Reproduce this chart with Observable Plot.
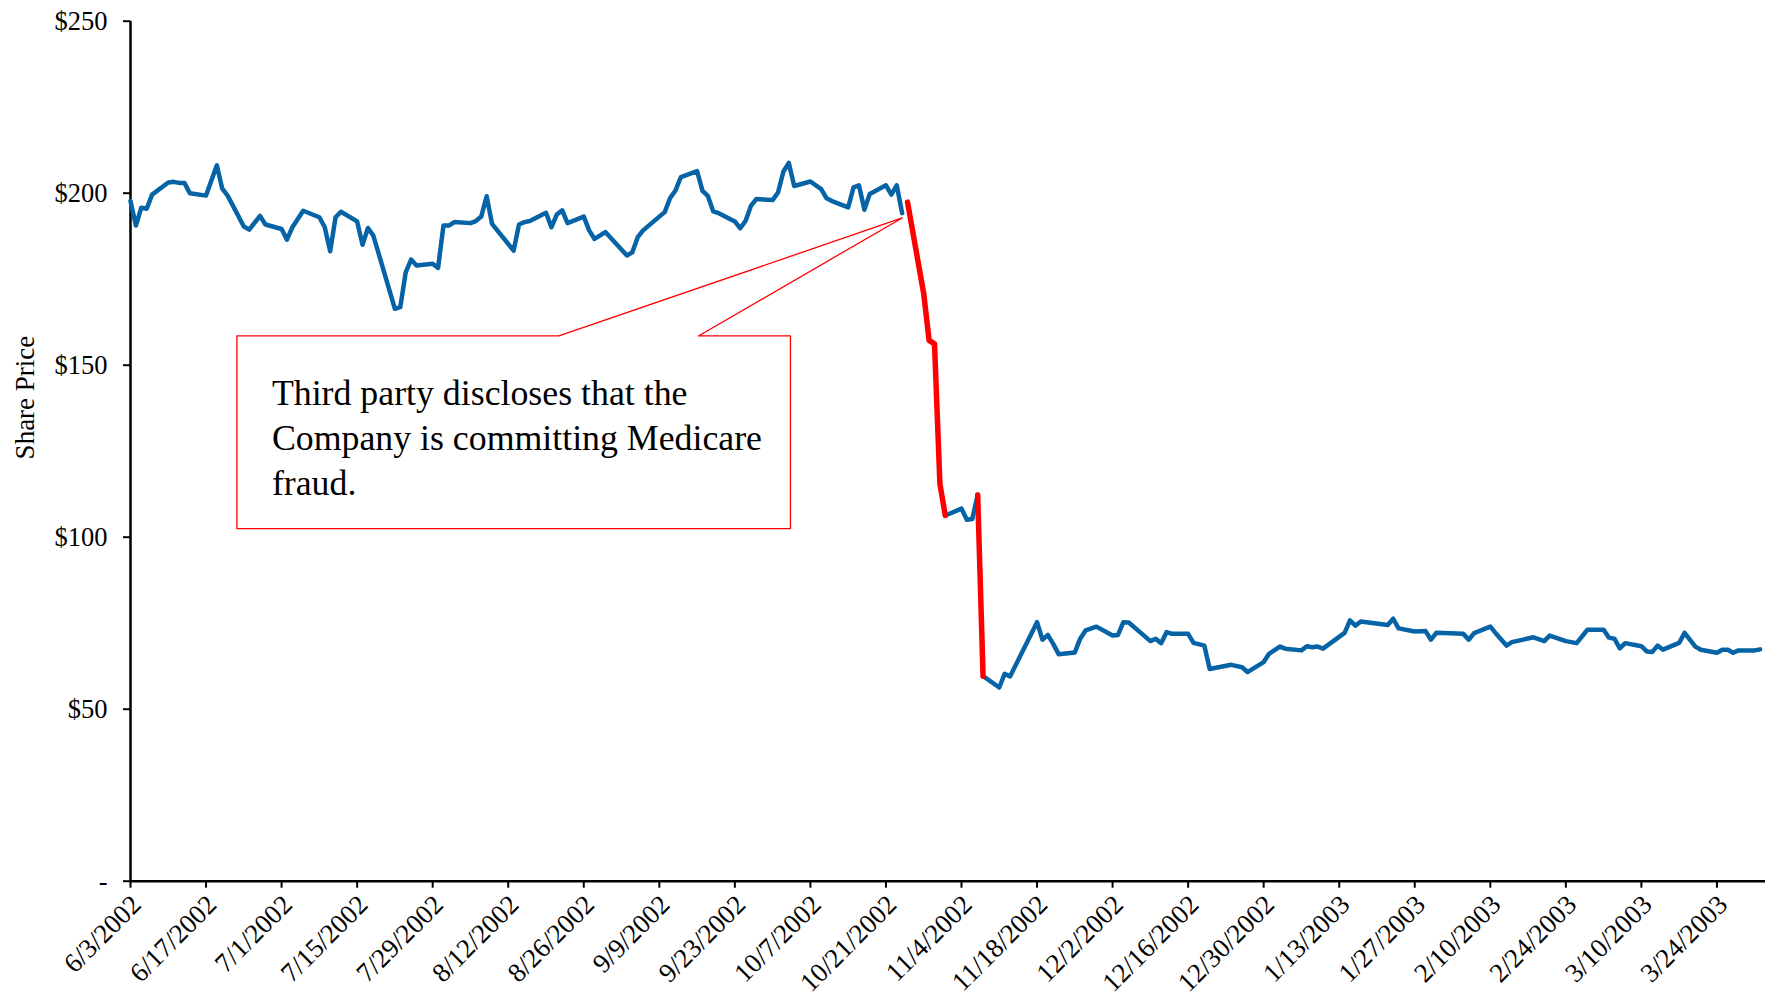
<!DOCTYPE html>
<html>
<head>
<meta charset="utf-8">
<script src="https://cdn.jsdelivr.net/npm/d3@7"></script>
<script src="https://cdn.jsdelivr.net/npm/@observablehq/plot@0.6"></script>
<style>
  html, body { margin: 0; padding: 0; background: #fff; }
  svg { display: block; }
</style>
</head>
<body>
<div id="chart"></div>
<script>
// ---- Data ----
const dates = [
  "2002-06-03","2002-06-04","2002-06-05","2002-06-06","2002-06-07",
  "2002-06-10","2002-06-11","2002-06-12","2002-06-13","2002-06-14",
  "2002-06-17","2002-06-19","2002-06-20","2002-06-21",
  "2002-06-24","2002-06-25","2002-06-27","2002-06-28",
  "2002-07-01","2002-07-02","2002-07-03","2002-07-05",
  "2002-07-08","2002-07-09","2002-07-10","2002-07-11","2002-07-12",
  "2002-07-15","2002-07-16","2002-07-17","2002-07-18",
  "2002-07-22","2002-07-23","2002-07-24","2002-07-25","2002-07-26",
  "2002-07-29","2002-07-30","2002-07-31","2002-08-01","2002-08-02",
  "2002-08-05","2002-08-06","2002-08-07","2002-08-08","2002-08-09",
  "2002-08-13","2002-08-14","2002-08-15","2002-08-16",
  "2002-08-19","2002-08-20","2002-08-21","2002-08-22","2002-08-23",
  "2002-08-26","2002-08-27","2002-08-28","2002-08-30",
  "2002-09-03","2002-09-04","2002-09-05","2002-09-06",
  "2002-09-09","2002-09-10","2002-09-11","2002-09-12","2002-09-13",
  "2002-09-16","2002-09-17","2002-09-18","2002-09-19","2002-09-20",
  "2002-09-23","2002-09-24","2002-09-25","2002-09-26","2002-09-27",
  "2002-09-30","2002-10-01","2002-10-02","2002-10-03","2002-10-04",
  "2002-10-07","2002-10-09","2002-10-10","2002-10-11",
  "2002-10-14","2002-10-15","2002-10-16","2002-10-17","2002-10-18",
  "2002-10-21","2002-10-22","2002-10-23","2002-10-24","2002-10-25",
  "2002-10-28","2002-10-29","2002-10-30","2002-10-31","2002-11-01",
  "2002-11-04","2002-11-05","2002-11-06","2002-11-07","2002-11-08",
  "2002-11-11","2002-11-12","2002-11-13",
  "2002-11-18","2002-11-19","2002-11-20","2002-11-21","2002-11-22",
  "2002-11-25","2002-11-26","2002-11-27","2002-11-29",
  "2002-12-02","2002-12-03","2002-12-04","2002-12-05",
  "2002-12-09","2002-12-10","2002-12-11","2002-12-12","2002-12-13",
  "2002-12-16","2002-12-17","2002-12-19","2002-12-20",
  "2002-12-24","2002-12-26","2002-12-27",
  "2002-12-30","2002-12-31","2003-01-02","2003-01-03",
  "2003-01-06","2003-01-07","2003-01-08","2003-01-09","2003-01-10",
  "2003-01-14","2003-01-15","2003-01-16","2003-01-17",
  "2003-01-22","2003-01-23","2003-01-24",
  "2003-01-27","2003-01-29","2003-01-30","2003-01-31",
  "2003-02-05","2003-02-06","2003-02-07",
  "2003-02-10","2003-02-11","2003-02-13","2003-02-14",
  "2003-02-18","2003-02-20","2003-02-21",
  "2003-02-24","2003-02-26","2003-02-28",
  "2003-03-03","2003-03-04","2003-03-05","2003-03-06","2003-03-07",
  "2003-03-10","2003-03-11","2003-03-12","2003-03-13","2003-03-14",
  "2003-03-17","2003-03-18","2003-03-20","2003-03-21",
  "2003-03-24","2003-03-25","2003-03-26","2003-03-27","2003-03-28",
  "2003-03-31","2003-04-01"
];
const prices = [
  197.7,190.6,195.8,195.5,199.6,
  203.1,203.3,203.0,203.0,200.0,
  199.3,208.1,201.3,199.3,
  190.3,189.4,193.4,190.9,
  189.6,186.5,190.1,194.9,
  193.0,190.1,183.1,193.0,194.6,
  191.8,185.0,189.9,187.7,
  166.4,166.9,177.0,180.7,179.0,
  179.5,178.3,190.6,190.6,191.6,
  191.3,191.9,193.2,199.1,191.1,
  183.3,190.9,191.6,191.9,
  194.3,190.1,193.8,195.0,191.3,
  193.2,189.2,186.7,188.7,
  181.9,182.8,187.2,189.2,
  193.2,194.5,198.6,200.8,204.7,
  206.4,200.7,199.2,194.7,194.2,
  191.8,189.8,192.0,196.4,198.3,
  198.0,200.2,206.3,208.8,202.1,
  203.4,201.2,198.5,197.7,
  195.9,201.7,202.3,195.2,199.8,
  202.3,199.6,202.3,194.2,197.4,
  170.8,157.2,156.2,115.5,106.3,
  108.3,105.1,105.3,112.3,59.6,
  56.3,60.3,59.5,
  75.3,70.2,71.6,69.0,66.0,
  66.5,70.5,72.9,74.0,
  71.4,71.6,75.3,75.2,
  69.8,70.5,69.2,72.4,71.9,
  71.9,69.3,68.5,61.7,
  62.9,62.2,60.8,
  63.7,66.1,68.2,67.6,
  67.1,68.3,68.0,68.2,67.6,
  72.2,75.8,74.3,75.5,
  74.5,76.3,73.5,
  72.6,72.7,70.2,72.2,
  71.9,70.2,72.1,
  74.0,72.1,68.5,69.5,
  70.9,69.8,71.4,
  69.8,69.2,73.1,
  73.1,70.8,70.5,67.7,69.2,
  68.3,66.8,66.6,68.5,67.3,
  69.3,72.2,68.2,67.3,
  66.4,67.3,67.3,66.4,67.1,
  67.1,67.4
];
// Date ranges drawn in each colour
const blueRanges = [["2002-06-03","2002-10-24"],["2002-11-01","2002-11-07"],["2002-11-08","2003-04-01"]];
const redRanges  = [["2002-10-25","2002-11-01"],["2002-11-07","2002-11-08"]];

// Axis ticks
const xTicks = [
  "2002-06-03","2002-06-17","2002-07-01","2002-07-15","2002-07-29","2002-08-12",
  "2002-08-26","2002-09-09","2002-09-23","2002-10-07","2002-10-21","2002-11-04",
  "2002-11-18","2002-12-02","2002-12-16","2002-12-30","2003-01-13","2003-01-27",
  "2003-02-10","2003-02-24","2003-03-10","2003-03-24"
];
const yTicks = [0, 50, 100, 150, 200, 250];
const xDomain = ["2002-06-03", "2003-04-02"];

// Annotation (callout) in data space: day offsets from 6/3/2002 and prices
const calloutText = "Third party discloses that the\nCompany is committing Medicare\nfraud.";
const calloutDays   = [19.72, 79.39, 143.0, 105.26, 122.3, 122.3, 19.72, 19.72];
const calloutPrices = [158.5, 158.5, 192.8, 158.5, 158.5, 102.5, 102.5, 158.5];
const calloutTextPos = {day: 26.2, price: 147.7};
const yLabelPos = {price: 140.6};

// ---- Build ----
const parse = s => new Date(s + "T00:00:00Z");
const rows = dates.map((d, i) => ({date: parse(d), price: prices[i]}));
const seg = ranges => ranges.flatMap(([a, b], k) =>
  rows.filter(r => r.date >= parse(a) && r.date <= parse(b)).map(r => ({...r, k})));
const blueRows = seg(blueRanges);
const redRows = seg(redRanges);
const t0 = parse(dates[0]);
const dayToDate = d => new Date(t0.getTime() + d * 864e5);
const callout = calloutDays.map((d, i) => ({date: dayToDate(d), price: calloutPrices[i]}));
const fmtDate = d => `${d.getUTCMonth() + 1}/${d.getUTCDate()}/${d.getUTCFullYear()}`;
const font = "'Liberation Serif', 'Times New Roman', serif";
const xTickDates = xTicks.map(parse);

const chart = Plot.plot({
  width: 1765,
  height: 998,
  marginLeft: 130,
  marginRight: 0,
  marginTop: 20.7,
  marginBottom: 117.3,
  style: {fontFamily: font, fontSize: "26px", color: "#000", background: "#fff", overflow: "visible"},
  x: {type: "utc", domain: xDomain.map(parse)},
  y: {domain: [0, 250]},
  marks: [
    Plot.axisY({ticks: yTicks, tickFormat: v => v === 0 ? "-" : `$${v}`, tickSize: 7, tickPadding: 16,
      fontSize: 26.5, strokeWidth: 2, label: null}),
    // tick marks only
    Plot.axisX({ticks: xTickDates, tickFormat: () => "", tickSize: 7, strokeWidth: 2, label: null}),
    // rotated tick labels only
    Plot.axisX({ticks: xTickDates, tickFormat: fmtDate, tickSize: 0, tickPadding: 19, dx: 6,
      tickRotate: -45, fontSize: 27, label: null}),
    Plot.ruleY([0], {stroke: "#000", strokeWidth: 2.5}),
    Plot.ruleX([parse(xDomain[0])], {y1: 0, y2: 250, stroke: "#000", strokeWidth: 2.5}),
    Plot.text(["Share Price"], {x: () => parse(xDomain[0]), y: () => yLabelPos.price, rotate: -90,
      dx: -105, fontSize: 27, fontFamily: font, fill: "#000"}),
    Plot.line(callout, {x: "date", y: "price", stroke: "#ff0000", strokeWidth: 1.3, curve: "linear"}),
    Plot.text([calloutText], {x: () => dayToDate(calloutTextPos.day), y: () => calloutTextPos.price,
      textAnchor: "start", lineAnchor: "top", lineHeight: 1.26, fontSize: 35.8, fontFamily: font, fill: "#000"}),
    Plot.line(blueRows, {x: "date", y: "price", z: "k", stroke: "#0563a6", strokeWidth: 4.5,
      strokeLinejoin: "round", strokeLinecap: "round"}),
    Plot.line(redRows, {x: "date", y: "price", z: "k", stroke: "#ff0000", strokeWidth: 5.5,
      strokeLinejoin: "round", strokeLinecap: "round"})
  ]
});
document.getElementById("chart").appendChild(chart);
</script>
</body>
</html>
